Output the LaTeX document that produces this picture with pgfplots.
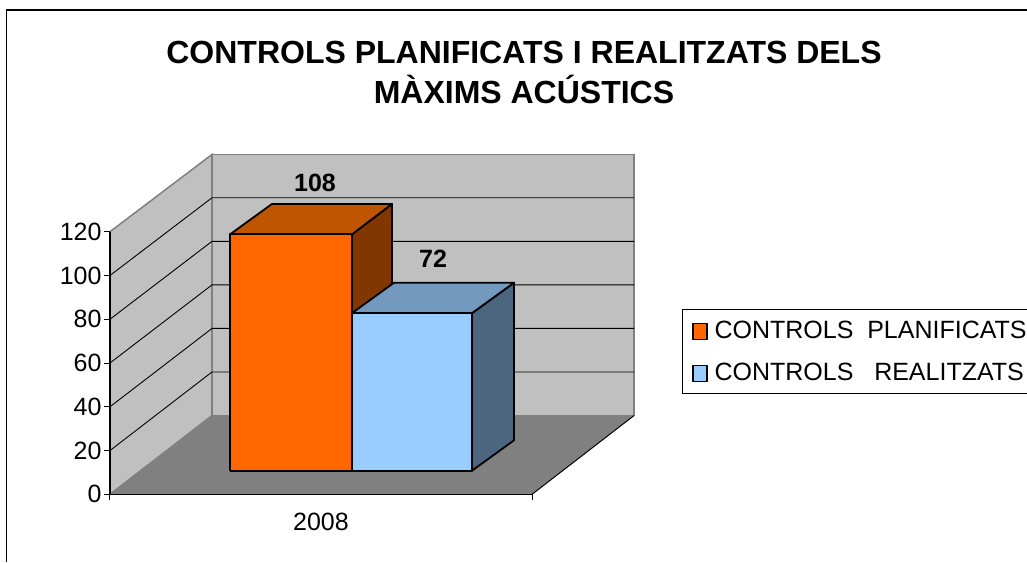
\documentclass[border=0pt]{standalone}
\usepackage{fontspec}
\setmainfont{Liberation Sans}
\usepackage{pgfplots}
\pgfplotsset{compat=1.18}
\definecolor{wall}{HTML}{C0C0C0}
\definecolor{floorc}{HTML}{808080}
\definecolor{orf}{HTML}{FF6600}
\definecolor{ort}{HTML}{C05500}
\definecolor{ors}{HTML}{823700}
\definecolor{blf}{HTML}{99CCFF}
\definecolor{blt}{HTML}{7399BF}
\definecolor{bls}{HTML}{4D6680}
\newcommand{\fs}[1]{\fontsize{#1}{#1}\selectfont}
\pgfplotsset{
  grd/.style={forget plot, no marks, black, line width=0.9pt},
  face/.style={forget plot, no marks, draw=black, line width=1.8pt, line join=round, yshift=23.6pt},
}
\begin{document}
\begin{tikzpicture}
\useasboundingbox (-110pt,-67.7pt) rectangle (917pt,494.3pt);
% chart frame, right and bottom edges are cut off in the source
\draw[black, line width=1.2pt] (-103.5pt,-67.7pt) -- (-103.5pt,484.3pt) -- (917pt,484.3pt);
\begin{axis}[
  at={(0pt,0pt)}, anchor=south west,
  scale only axis, width=422pt, height=262.6pt,
  xmin=110, xmax=532, ymin=0, ymax=120,
  clip=false, axis on top,
  axis lines=left, axis line style={-, black, line width=1.3pt},
  xtick={110,532}, xticklabels={},
  extra x ticks={321}, extra x tick labels={2008},
  extra x tick style={major tick length=0pt},
  ytick={0,20,40,60,80,100,120},
  tick align=outside, major tick length=6pt,
  tick style={black, line width=1pt},
  /pgf/number format/assume math mode=true,
  tick label style={font=\fs{25}},
  yticklabel style={xshift=1pt},
  xticklabel style={yshift=-15pt},
  title={CONTROLS PLANIFICATS I REALITZATS DELS\\[8pt]MÀXIMS ACÚSTICS},
  title style={font=\fs{32}\bfseries, align=center, anchor=center,
    at={(axis description cs:0.981,1.582)}},
  legend style={at={(axis description cs:1.356,0.7056)}, anchor=north west,
    draw=black, line width=1pt, font=\fs{25}, inner xsep=9pt, inner ysep=9.5pt,
    row sep=19pt, legend cell align=left,
    /tikz/column 1/.style={column sep=4.5pt}},
  legend image code/.code={\draw[#1, yshift=-24.6pt] (0pt,-8pt) rectangle (14.5pt,8pt);},
]
% floor and walls
\addplot[forget plot, no marks, fill=floorc, draw=floorc, line width=1pt]
  coordinates {(110,0)(532,0)(634,36)(212,36)(110,0)};
\addplot[forget plot, no marks, fill=wall, draw=floorc, line width=1.5pt]
  coordinates {(110,0)(212,36)(212,155.3)(110,120)(110,0)};
\addplot[forget plot, no marks, fill=wall, draw=floorc, line width=1.5pt]
  coordinates {(212,36)(634,36)(634,155.3)(212,155.3)(212,36)};
\addplot[grd] coordinates {(532,0)(634,36)};
% gridlines, left wall then back wall
\addplot[grd] coordinates {(110,20)(212,55.9)(634,55.9)};
\addplot[grd] coordinates {(110,40)(212,75.8)(634,75.8)};
\addplot[grd] coordinates {(110,60)(212,95.7)(634,95.7)};
\addplot[grd] coordinates {(110,80)(212,115.6)(634,115.6)};
\addplot[grd] coordinates {(110,100)(212,135.5)(634,135.5)};
% bar 1
\addplot[face, fill=ors] coordinates {(352,0)(392,13.9)(392,121.9)(352,108)(352,0)};
\addplot[face, fill=ort] coordinates {(230,108)(352,108)(392,121.9)(272,121.9)(230,108)};
\addplot[face, fill=orf, forget plot=false] coordinates {(230,0)(352,0)(352,108)(230,108)(230,0)};
\addlegendentry{\makebox[330pt][l]{CONTROLS\ \ PLANIFICATS}}
% bar 2
\addplot[face, fill=bls] coordinates {(472,0)(514,13.9)(514,85.9)(472,72)(472,0)};
\addplot[face, fill=blt] coordinates {(352,72)(472,72)(514,85.9)(394,85.9)(352,72)};
\addplot[face, fill=blf, forget plot=false] coordinates {(352,0)(472,0)(472,72)(352,72)(352,0)};
\addlegendentry{\makebox[330pt][l]{CONTROLS\ \ \ REALITZATS}}
% value labels
\node[font=\fs{25}\bfseries] at (axis cs:315,142.3) {108};
\node[font=\fs{25}\bfseries] at (axis cs:433,107.5) {72};
\end{axis}
\end{tikzpicture}
\end{document}
